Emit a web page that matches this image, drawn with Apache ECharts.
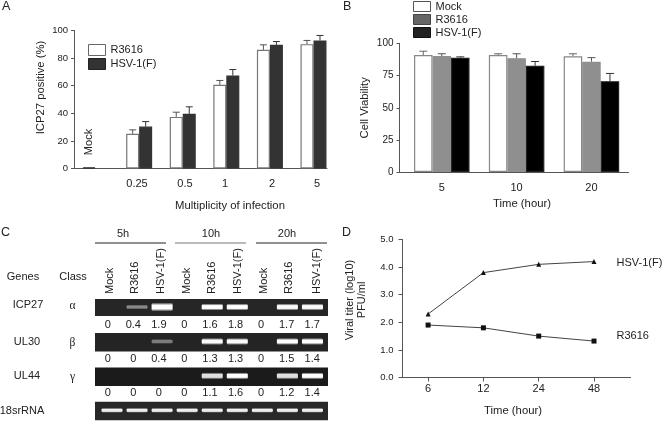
<!DOCTYPE html>
<html><head><meta charset="utf-8">
<style>html,body{margin:0;padding:0;background:#fff}#c{width:664px;height:421px}</style>
<script src="https://cdn.jsdelivr.net/npm/echarts@6/dist/echarts.min.js"></script>
</head><body><div id="c"></div>
<script>
// Panel A
const moiLabels = ['', '0.25', '0.5', '1', '2', '5'];
const moiLabelNudges = [0, -0.05, 0.05, -0.03, 0.05, 0.08];
const aR3616 = [0.8, 25.1, 37.4, 60.6, 86, 90.1];
const aR3616Err = [null, 28, 40.8, 63.8, 89.6, 92.8];
const aHSV = [null, 30.4, 39.6, 67.4, 89.6, 92.8];
const aHSVErr = [null, 34, 44.7, 71.7, 92, 96.4];
// Panel B
const timeB = ['5', '10', '20'];
const bMock = [91, 91, 90];
const bMockErr = [94, 92, 92];
const bR3616 = [90.2, 88.6, 85.8];
const bR3616Err = [92, 92, 89];
const bHSV = [88.9, 82.6, 70.7];
const bHSVErr = [89.6, 86, 76.7];
// Panel C
const laneNames = ['Mock', 'R3616', 'HSV-1(F)', 'Mock', 'R3616', 'HSV-1(F)', 'Mock', 'R3616', 'HSV-1(F)'];
const timeGroups = ['5h', '10h', '20h'];
const genes = ['ICP27', 'UL30', 'UL44', '18srRNA'];
const geneClass = ['α', 'β', 'γ', ''];
const bandICP27 = [0, 0.4, 1, 0, 0.9, 0.95, 0, 0.85, 0.85];
const bandUL30 = [0, 0, 0.35, 0, 0.85, 0.85, 0, 0.9, 0.9];
const bandUL44 = [0, 0, 0, 0, 0.75, 0.95, 0, 0.75, 0.9];
const band18S = [0.8, 0.8, 0.8, 0.8, 0.8, 0.8, 0.8, 0.8, 0.8];
const quantICP27 = ['0', '0.4', '1.9', '0', '1.6', '1.8', '0', '1.7', '1.7'];
const quantUL30 = ['0', '0', '0.4', '0', '1.3', '1.3', '0', '1.5', '1.4'];
const quantUL44 = ['0', '0', '0', '0', '1.1', '1.6', '0', '1.2', '1.4'];
// Panel D
const timeD = ['6', '12', '24', '48'];
const dHSV = [2.3, 3.8, 4.1, 4.2];
const dR3616 = [1.9, 1.8, 1.5, 1.32];

const FONT = '"Liberation Sans", Arial, sans-serif';
const INK = '#222';
const AX = '#555';

const pairs = a => a.map((v, i) => [i, v]);
function errSeries(name, xi, yi, vals, base, shift, w, color) {
  return {
    type: 'custom', xAxisIndex: xi, yAxisIndex: yi, silent: true, z: 1, name: name,
    data: vals.map((v, i) => [i, v, base[i]]).filter(d => d[1] != null),
    renderItem(p, api) {
      const top = api.coord([api.value(0), api.value(1)]);
      const bot = api.coord([api.value(0), api.value(2)]);
      const x = top[0] + shift;
      const st = { stroke: color, lineWidth: 1 };
      return { type: 'group', children: [
        { type: 'line', shape: { x1: x, y1: top[1], x2: x, y2: bot[1] }, style: st },
        { type: 'line', shape: { x1: x - w, y1: top[1], x2: x + w, y2: top[1] }, style: st }
      ] };
    }
  };
}
function bar(name, xi, yi, vals, width, fill, border) {
  return {
    type: 'bar', name, xAxisIndex: xi, yAxisIndex: yi, barWidth: width, barGap: 0, z: 2,
    data: pairs(vals).filter(d => d[1] != null),
    itemStyle: { color: fill, borderColor: border, borderWidth: 1.2 }
  };
}
const axisBase = {
  axisLine: { show: true, onZero: false, lineStyle: { color: AX, width: 1 } },
  splitLine: { show: false },
  axisTick: { show: true, length: 4, lineStyle: { color: AX } },
  axisLabel: { color: INK, fontFamily: FONT, fontSize: 11 },
  nameTextStyle: { color: INK, fontFamily: FONT, fontSize: 11.3 }
};
const ax = extra => {
  const o = Object.assign({}, axisBase, extra);
  o.axisLabel = Object.assign({}, axisBase.axisLabel, extra.axisLabel || {});
  o.axisTick = Object.assign({}, axisBase.axisTick, extra.axisTick || {});
  o.nameTextStyle = Object.assign({}, axisBase.nameTextStyle, extra.nameTextStyle || {});
  return o;
};

// grids: 0 A, 1 B, 2 D, 3 C
const grids = [
  { left: 74, top: 30.5, width: 253, height: 138 },
  { left: 399.5, top: 43.5, width: 229, height: 128.5 },
  { left: 402.5, top: 239.5, width: 228, height: 138 },
  { left: 95, top: 290, width: 233, height: 131 }
];
const laneLo = -0.678, laneHi = 8.62;

const rows = [bandICP27, bandUL30, bandUL44, band18S];
const rowBg = ['#262626', '#242424', '#1b1b1b', '#282828'];
const quants = [quantICP27, quantUL30, quantUL44];

const gelBg = {
  type: 'custom', xAxisIndex: 3, yAxisIndex: 3, silent: true, z: 1,
  data: rows.map((r, i) => [i]),
  renderItem(p, api) {
    const r = api.value(0);
    const c = api.coord([0, r]);
    return { type: 'rect', shape: { x: 95, y: c[1] - (r ? 9 : 8.5), width: 233, height: r ? 18.5 : 17 }, style: { fill: rowBg[r] } };
  }
};
const gelBands = {
  type: 'custom', xAxisIndex: 3, yAxisIndex: 3, silent: true, z: 2, clip: false,
  data: rows.flatMap((r, ri) => r.map((s, l) => [l, ri, s]).filter(d => d[2] > 0)),
  renderItem(p, api) {
    const c = api.coord([api.value(0), api.value(1)]);
    const s = api.value(2);
    const ri = api.value(1);
    const bw = api.size([1, 0])[0] * 0.84;
    const h = ri === 3 ? 5 : s > 0.95 ? 9 : s > 0.6 ? 7 : 5;
    const core = Math.min(1, s * 1.15);
    const w = a => 'rgba(255,255,255,' + a + ')';
    return { type: 'rect', shape: { x: c[0] - bw / 2, y: c[1] - h / 2 - 0.5, width: bw, height: h, r: 2 },
      style: { fill: new echarts.graphic.LinearGradient(0, 0, 0, 1, [
        { offset: 0, color: w(0) }, { offset: 0.3, color: w(core) },
        { offset: 0.7, color: w(core) }, { offset: 1, color: w(0) }
      ]) } };
  }
};
const gelNums = {
  type: 'custom', xAxisIndex: 3, yAxisIndex: 3, silent: true, z: 3, clip: false,
  data: quants.flatMap((q, ri) => q.map((t, l) => [l, ri, t])),
  renderItem(p, api) {
    const l = api.value(0), ri = api.value(1);
    const c = api.coord([l * 1.02 - 0.17, ri + 0.5]);
    return { type: 'text', style: { x: c[0], y: c[1] + (ri === 0 ? 0 : -0.5), text: quants[ri][l], align: 'center', verticalAlign: 'middle', font: '11px ' + FONT, fill: INK } };
  }
};

const txt = (text, x, y, o = {}) => ({
  type: 'text', x, y, rotation: o.rot || 0, silent: true,
  style: { text, align: o.align || 'center', verticalAlign: 'middle', fill: o.fill || INK,
    font: (o.size || 11) + 'px ' + (o.family || FONT) }
});
const graphics = [
  txt('A', 2, 7, { align: 'left', size: 12.5 }),
  txt('B', 343, 7, { align: 'left', size: 12.5 }),
  txt('C', 1, 233, { align: 'left', size: 12.5 }),
  txt('D', 342, 233, { align: 'left', size: 12.5 }),
  txt('Mock', 88.5, 142, { rot: Math.PI / 2 }),
  txt('HSV-1(F)', 616.5, 262.5, { align: 'left' }),
  txt('R3616', 616.5, 335.5, { align: 'left' }),
  txt('Viral titer (log10)', 349.5, 300, { rot: Math.PI / 2 }),
  txt('PFU/ml', 362, 300, { rot: Math.PI / 2 }),
  txt('Genes', 23, 277),
  txt('Class', 73, 277)
];
const groupX = [[95, 166], [175, 246], [256, 327]];
const groupLabelX = [123, 211, 287];
const groupStroke = ['#222', '#777', '#222'];
timeGroups.forEach((t, i) => {
  graphics.push(txt(t, groupLabelX[i], 234));
  graphics.push({ type: 'line', silent: true, shape: { x1: groupX[i][0], y1: 243, x2: groupX[i][1], y2: 243 }, style: { stroke: groupStroke[i], lineWidth: 1 } });
});
const laneLabelX = [110, 135, 161, 187.3, 212.3, 238.3, 264, 289.3, 316.7];
laneNames.forEach((n, i) => graphics.push(txt(n, laneLabelX[i], 294, { rot: Math.PI / 2, align: 'left' })));
const geneX = [28, 27, 27, 22];
const geneY = [304.5, 342, 376, 411];
genes.forEach((g, i) => {
  graphics.push(txt(g, geneX[i], geneY[i]));
  if (geneClass[i]) graphics.push(txt(geneClass[i], 72.5, geneY[i] + 1, { family: '"Liberation Serif", serif', size: 11.5 }));
});

const seriesA0 = bar('R3616', 0, 0, aR3616, 13, '#fff', '#777');
seriesA0.data[0] = { value: seriesA0.data[0], itemStyle: { color: '#222', borderColor: '#222' } };

const option = {
  backgroundColor: '#fff',
  animation: false,
  textStyle: { fontFamily: FONT },
  grid: grids,
  legend: [
    { left: 88, top: 44, padding: 0, orient: 'vertical', itemWidth: 17, itemHeight: 11, itemGap: 2, icon: 'rect', selectedMode: false,
      textStyle: { fontFamily: FONT, fontSize: 11, lineHeight: 11, color: INK },
      data: [
        { name: 'R3616', itemStyle: { color: '#fff', borderColor: '#666', borderWidth: 1 } },
        { name: 'HSV-1(F)', itemStyle: { color: '#333', borderColor: '#222', borderWidth: 1 } }
      ] },
    { left: 413, top: 1, padding: 0, orient: 'vertical', itemWidth: 17, itemHeight: 10, itemGap: 2, icon: 'rect', selectedMode: false,
      textStyle: { fontFamily: FONT, fontSize: 11, lineHeight: 10, color: INK },
      data: [
        { name: 'Mock', itemStyle: { color: '#fff', borderColor: '#555', borderWidth: 1 } },
        { name: 'R3616', itemStyle: { color: '#666', borderColor: '#444', borderWidth: 1 } },
        { name: 'HSV-1(F)', itemStyle: { color: '#222', borderColor: '#111', borderWidth: 1 } }
      ] }
  ],
  xAxis: [
    ax({ type: 'value', gridIndex: 0, min: -0.495, max: 5.31, axisTick: { show: false },
      axisLabel: { margin: 10, customValues: moiLabelNudges.map((d, i) => i + d).slice(1),
        formatter: v => moiLabels[Math.round(v)] },
      name: 'Multiplicity of infection', nameLocation: 'middle', nameGap: 32, nameTextStyle: { padding: [0, 0, 0, 59] } }),
    ax({ type: 'value', gridIndex: 1, min: -0.565, max: 2.495, axisTick: { show: false },
      axisLabel: { margin: 10, customValues: [0, 1, 2], formatter: v => timeB[Math.round(v)] },
      name: 'Time (hour)', nameLocation: 'middle', nameGap: 26, nameTextStyle: { padding: [0, 0, 0, 16] } }),
    ax({ type: 'value', gridIndex: 2, min: -0.463, max: 3.66,
      axisTick: { customValues: [0, 1, 2, 3] },
      axisLabel: { margin: 6, customValues: [0, 1, 2, 3], formatter: v => timeD[Math.round(v)] },
      name: 'Time (hour)', nameLocation: 'middle', nameGap: 28, nameTextStyle: { padding: [0, 7, 0, 0] } }),
    { type: 'value', gridIndex: 3, min: laneLo, max: laneHi, show: false }
  ],
  yAxis: [
    ax({ type: 'value', gridIndex: 0, min: 0, max: 100, interval: 20,
      axisLabel: { margin: 6, fontSize: 9.5 }, axisTick: { length: 3 },
      name: 'ICP27 positive (%)', nameLocation: 'middle', nameGap: 28, nameTextStyle: { padding: [0, 0, 0, 24] } }),
    ax({ type: 'value', gridIndex: 1, min: 0, max: 100, interval: 25,
      axisLabel: { margin: 6, fontSize: 10 }, axisTick: { length: 3 },
      name: 'Cell Viability', nameLocation: 'middle', nameGap: 29 }),
    ax({ type: 'value', gridIndex: 2, min: 0, max: 5, interval: 1,
      axisLabel: { margin: 9, fontSize: 9.5, formatter: v => v.toFixed(1) } }),
    { type: 'value', gridIndex: 3, min: -0.508, max: 3.295, inverse: true, show: false }
  ],
  series: [
    seriesA0,
    bar('HSV-1(F)', 0, 0, aHSV, 13, '#333', '#333'),
    errSeries('aErrR', 0, 0, aR3616Err, aR3616, -6.5, 3.5, '#555'),
    errSeries('aErrH', 0, 0, aHSVErr, aHSV, 6.5, 3.5, '#333'),
    bar('Mock', 1, 1, bMock, 18.5, '#fff', '#888'),
    bar('R3616', 1, 1, bR3616, 18.5, '#8f8f8f', '#8f8f8f'),
    bar('HSV-1(F)', 1, 1, bHSV, 18.5, '#000', '#222'),
    errSeries('bErrM', 1, 1, bMockErr, bMock, -18.5, 4, '#666'),
    errSeries('bErrR', 1, 1, bR3616Err, bR3616, 0, 4, '#555'),
    errSeries('bErrH', 1, 1, bHSVErr, bHSV, 18.5, 4, '#333'),
    { type: 'line', name: 'HSV-1(F)', xAxisIndex: 2, yAxisIndex: 2, data: pairs(dHSV), symbol: 'triangle', symbolSize: 5,
      lineStyle: { color: '#444', width: 1 }, itemStyle: { color: '#111' } },
    { type: 'line', name: 'R3616', xAxisIndex: 2, yAxisIndex: 2, data: pairs(dR3616), symbol: 'rect', symbolSize: 5,
      lineStyle: { color: '#444', width: 1 }, itemStyle: { color: '#111' } },
    gelBg, gelBands, gelNums
  ],
  graphic: graphics
};
echarts.init(document.getElementById('c')).setOption(option);
</script></body></html>
